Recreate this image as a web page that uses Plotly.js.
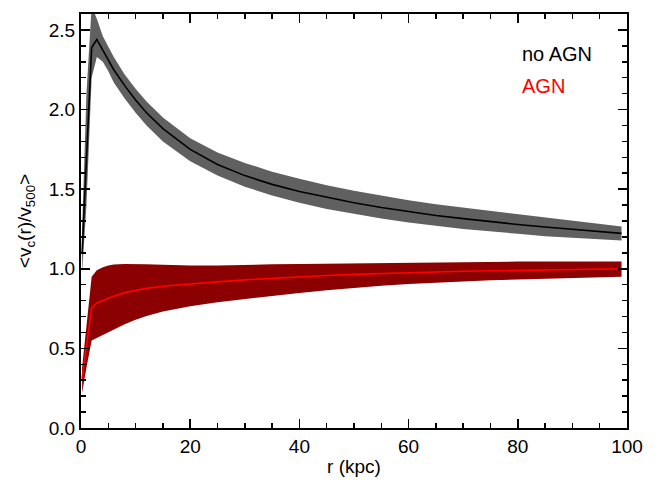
<!DOCTYPE html>
<html>
<head>
<meta charset="utf-8">
<script src="https://cdn.plot.ly/plotly-3.0.1.min.js"></script>
<style>html,body{margin:0;padding:0;background:#fff}#chart{width:660px;height:483px}</style>
</head>
<body>
<div id="chart"></div>
<script>
// radius (kpc)
const r = [0.2, 1.0, 1.95, 2.9, 4, 5, 6, 8, 10, 12, 15, 20, 25, 30, 35, 40, 45, 50, 55, 60, 65, 70, 75, 80, 85, 90, 95, 99];
// no AGN
const noAgnMean  = [1.10, 1.65, 2.39, 2.44, 2.37, 2.31, 2.25, 2.15, 2.06, 1.98, 1.88, 1.75, 1.655, 1.585, 1.53, 1.485, 1.45, 1.415, 1.385, 1.36, 1.335, 1.315, 1.295, 1.278, 1.262, 1.248, 1.233, 1.222];
const noAgnUpper = [1.25, 2.10, 2.65, 2.57, 2.46, 2.39, 2.33, 2.22, 2.13, 2.05, 1.95, 1.82, 1.73, 1.665, 1.61, 1.565, 1.525, 1.49, 1.46, 1.43, 1.405, 1.385, 1.365, 1.345, 1.325, 1.305, 1.285, 1.265];
const noAgnLower = [0.97, 1.40, 2.20, 2.33, 2.30, 2.24, 2.17, 2.07, 1.98, 1.90, 1.80, 1.675, 1.585, 1.515, 1.46, 1.415, 1.375, 1.345, 1.315, 1.29, 1.27, 1.25, 1.235, 1.22, 1.205, 1.195, 1.185, 1.178];
// AGN
const agnMean  = [0.31, 0.52, 0.755, 0.785, 0.80, 0.815, 0.828, 0.85, 0.865, 0.877, 0.89, 0.905, 0.918, 0.93, 0.94, 0.95, 0.958, 0.965, 0.971, 0.976, 0.98, 0.984, 0.987, 0.99, 0.993, 0.996, 0.998, 1.0];
const agnUpper = [0.38, 0.65, 0.95, 0.99, 1.01, 1.02, 1.027, 1.03, 1.03, 1.028, 1.025, 1.02, 1.02, 1.025, 1.028, 1.03, 1.032, 1.035, 1.037, 1.04, 1.04, 1.04, 1.042, 1.045, 1.045, 1.045, 1.045, 1.045];
const agnLower = [0.22, 0.38, 0.55, 0.565, 0.58, 0.598, 0.618, 0.652, 0.68, 0.703, 0.732, 0.765, 0.79, 0.81, 0.83, 0.848, 0.865, 0.88, 0.893, 0.904, 0.913, 0.92, 0.928, 0.935, 0.94, 0.944, 0.947, 0.95];

const labels = ["no AGN", "AGN"];
const xTicks = [0, 20, 40, 60, 80, 100];
const yTicks = [0.0, 0.5, 1.0, 1.5, 2.0, 2.5];

const FONT = "Liberation Sans, Arial, Helvetica, sans-serif";

function band(lower, upper, color) {
  return {
    x: r.concat(r.slice().reverse()),
    y: upper.concat(lower.slice().reverse()),
    type: "scatter", mode: "lines", fill: "toself",
    fillcolor: color, line: {width: 0, color: color},
    hoverinfo: "skip", showlegend: false
  };
}

const traces = [
  band(noAgnLower, noAgnUpper, "#606060"),
  {x: r, y: noAgnMean, type: "scatter", mode: "lines", line: {color: "#000000", width: 1.6}, showlegend: false},
  band(agnLower, agnUpper, "#8b0000"),
  {x: r, y: agnMean, type: "scatter", mode: "lines", line: {color: "#ff0000", width: 1.6}, showlegend: false}
];

const axisCommon = {
  showline: true, linecolor: "#000", linewidth: 2, mirror: "allticks",
  ticks: "inside", ticklen: 9, tickwidth: 1.5, tickcolor: "#000",
  showgrid: false, zeroline: false,
  tickfont: {family: FONT, size: 19, color: "#000"}
};

const layout = {
  width: 660, height: 483,
  margin: {l: 81, r: 33, t: 14, b: 55},
  paper_bgcolor: "#fff", plot_bgcolor: "#fff",
  showlegend: false,
  xaxis: Object.assign({}, axisCommon, {
    automargin: false,
    range: [0, 100], tickvals: xTicks, ticktext: xTicks.map(String),
    minor: {dtick: 5, tick0: 0, ticks: "inside", ticklen: 5, tickwidth: 1.5, tickcolor: "#000"},
    title: {text: "r (kpc)", font: {family: FONT, size: 19, color: "#000"}, standoff: 4}
  }),
  yaxis: Object.assign({}, axisCommon, {
    automargin: true,
    range: [0, 2.6], tickvals: yTicks, ticktext: yTicks.map(v => v.toFixed(1)),
    minor: {dtick: 0.1, tick0: 0, ticks: "inside", ticklen: 5, tickwidth: 1.5, tickcolor: "#000"},
    title: {text: "&lt;v<sub>c</sub>(r)/v<sub>500</sub>&gt;", font: {family: FONT, size: 19, color: "#000"}, standoff: 12}
  }),
  annotations: [
    {x: 80.4, y: 2.35, xref: "x", yref: "y", text: labels[0], showarrow: false, xanchor: "left", yanchor: "middle",
     font: {family: FONT, size: 20, color: "#000"}},
    {x: 80.4, y: 2.145, xref: "x", yref: "y", text: labels[1], showarrow: false, xanchor: "left", yanchor: "middle",
     font: {family: FONT, size: 20, color: "#ff0000"}}
  ]
};

Plotly.newPlot("chart", traces, layout, {staticPlot: true, displayModeBar: false});
</script>
</body>
</html>
